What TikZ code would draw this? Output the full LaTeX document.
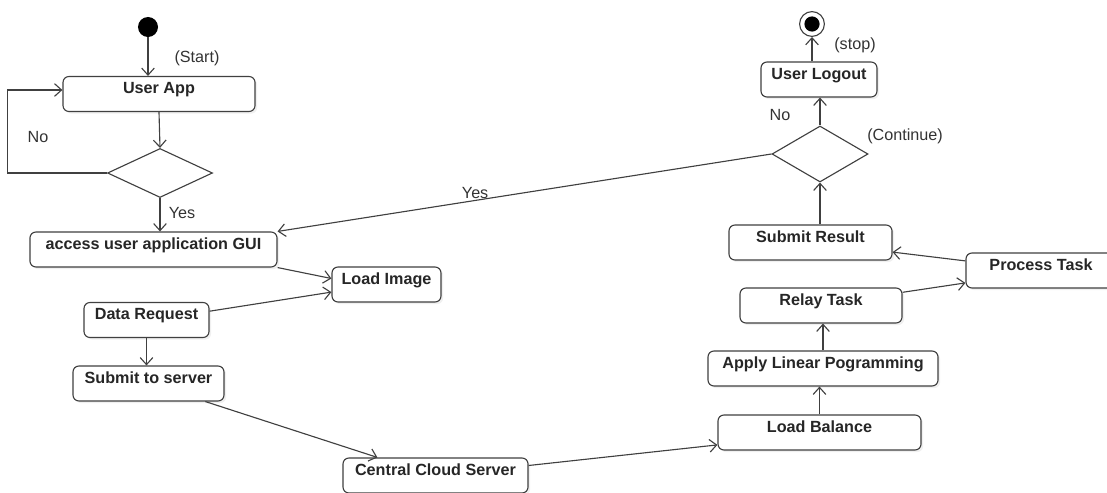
\documentclass[tikz,border=0pt]{standalone}
\usepackage{fontspec}
\setmainfont{Liberation Sans}
\usetikzlibrary{shapes,arrows.meta,shadows}
\tikzstyle{activity} = [rectangle, draw=black!75, line width=0.8pt, rounded corners=0.15cm,
    font=\fontsize{11.5}{13}\selectfont\bfseries, text=black!85, text centered,
    inner ysep=0pt, text height=0.425cm, text depth=0.45cm, fill=white,
    drop shadow={opacity=0.12, shadow xshift=1.5pt, shadow yshift=-1.5pt}]
\tikzstyle{decision} = [diamond, draw=black!75, line width=0.8pt, fill=white, inner sep=0pt]
\tikzstyle{line} = [draw=black!75, line width=0.8pt, -{Straight Barb[length=5pt,width=9pt]}]
\tikzstyle{note} = [font=\fontsize{11.5}{13}\selectfont, text=black!80, inner sep=1pt]
\tikzstyle{initial} = [circle, fill=black, minimum size=0.5cm, inner sep=0pt]
\tikzstyle{final} = [circle, draw=black!75, line width=0.8pt, minimum size=0.62cm, inner sep=0pt,
    path picture={\fill (path picture bounding box.center) circle (0.19cm);}]

\begin{document}
\begin{tikzpicture}[x=0.025cm, y=-0.025cm]
    \useasboundingbox (0,0) rectangle (1107,493);
    % Place nodes
    \node [initial] (Start) at (148,27) {};
    \node [activity, minimum width=4.8cm] (userApp) at (159,94) {User App};
    \node [decision, minimum width=2.625cm, minimum height=1.225cm] (loginOk) at (160,173) {};
    \node [activity, minimum width=6.175cm] (gui) at (153.5,249.5) {access user application GUI};
    \node [activity, minimum width=2.725cm] (loadImage) at (386.5,284.5) {Load Image};
    \node [activity, minimum width=3.125cm] (dataRequest) at (146.5,320) {Data Request};
    \node [activity, minimum width=3.775cm] (submitServer) at (148.5,383.5) {Submit to server};
    \node [activity, minimum width=4.625cm] (cloudServer) at (435.5,475.5) {Central Cloud Server};
    \node [activity, minimum width=5.075cm] (loadBalance) at (819.5,432.5) {Load Balance};
    \node [activity, minimum width=5.75cm] (linProg) at (823,368.5) {Apply Linear Pogramming};
    \node [activity, minimum width=4.05cm] (relayTask) at (821,305.5) {Relay Task};
    \node [activity, minimum width=4.075cm] (submitResult) at (810.5,242.5) {Submit Result};
    \node [activity, minimum width=3.75cm] (processTask) at (1041,270.5) {Process Task};
    \node [decision, minimum width=2.4cm, minimum height=1.4cm] (continue) at (820,154) {};
    \node [activity, minimum width=2.9cm] (logout) at (819,79.5) {User Logout};
    \node [final] (End) at (812,24) {};
    % Labels
    \node [note] (startLbl) at (197,58) {(Start)};
    \node [note] (noLbl) at (38,137) {No};
    \node [note] (yesLbl) at (182,213) {Yes};
    \node [note] (stopLbl) at (855,45) {(stop)};
    \node [note] (noLbl2) at (780,115) {No};
    \node [note] (contLbl) at (905,136) {(Continue)};
    % Draw edges
    \path [line] (Start) -- (Start |- userApp.north);
    \path [line] (userApp.south) -- (loginOk.north);
    \path [line] (loginOk.west) -- ++(-99,0) |- ([yshift=0.1cm]userApp.west);
    \path [line] (loginOk.south) -- (loginOk.south |- gui.north);
    \path [line] (gui.south east) -- ([yshift=0.15cm]loadImage.west);
    \path [line] ([yshift=0.22cm]dataRequest.east) -- ([yshift=-0.19cm]loadImage.west);
    \path [line] (dataRequest.south) -- (dataRequest.south |- submitServer.north);
    \path [line] ([xshift=-0.48cm]submitServer.south east) -- ([xshift=0.875cm]cloudServer.north west);
    \path [line] ([yshift=0.25cm]cloudServer.east) -- ([yshift=-0.31cm]loadBalance.west);
    \path [line] (loadBalance.north) -- (loadBalance.north |- linProg.south);
    \path [line] (linProg.north) -- (linProg.north |- relayTask.south);
    \path [line] ([yshift=0.33cm]relayTask.east) -- ([yshift=-0.31cm]processTask.west);
    \path [line] ([yshift=0.24cm]processTask.west) -- ([yshift=-0.24cm]submitResult.east);
    \path [line] (continue.south |- submitResult.north) -- (continue.south);
    \path [line] (continue.north) -- (continue.north |- logout.south);
    \path [line] (End |- logout.north) -- (End);
    \path [line] (continue.west) -- node [note, above, pos=0.6] {Yes} (gui.north east);
\end{tikzpicture}
\end{document}
